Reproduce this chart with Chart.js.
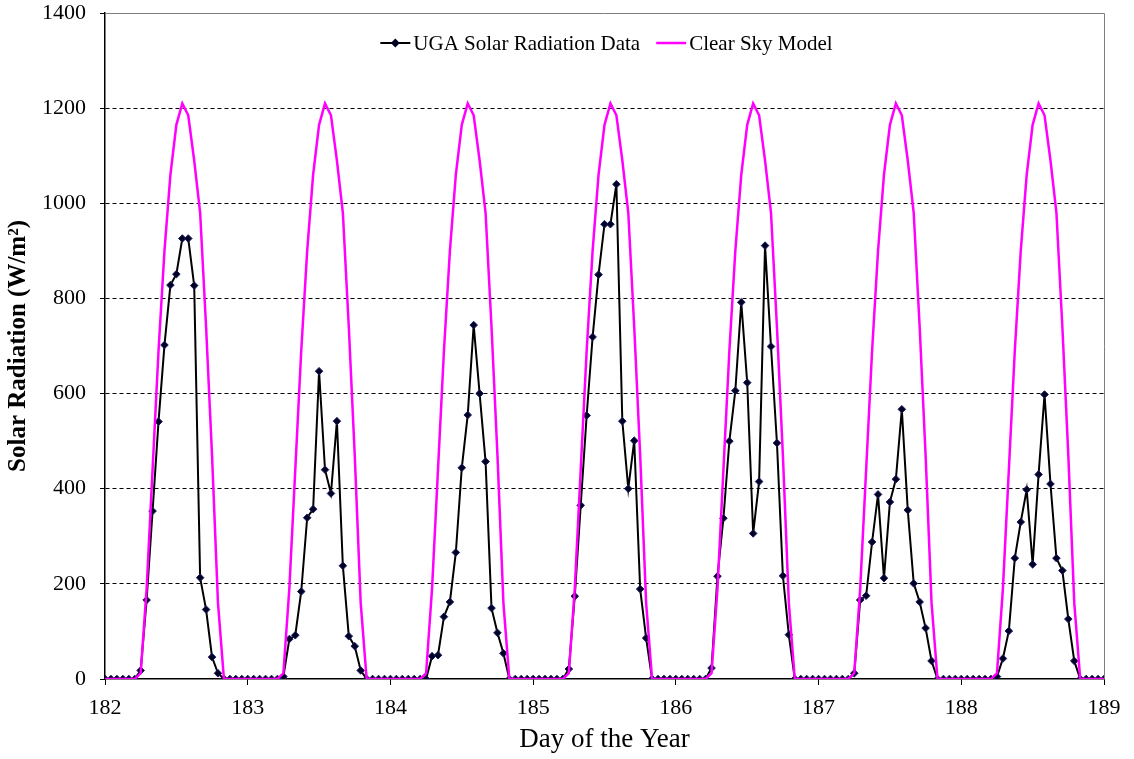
<!DOCTYPE html>
<html>
<head>
<meta charset="utf-8">
<script src="https://cdn.jsdelivr.net/npm/chart.js@4.4.1/dist/chart.umd.min.js"></script>
<style>
  html, body { margin: 0; padding: 0; background: #fff; }
  #wrap { width: 1134px; height: 759px; }
</style>
</head>
<body>
<div id="wrap"><canvas id="chart" width="1134" height="759"></canvas></div>
<script>
// hourly readings, hour 0..23 of each day
const day182 = [0, 0, 0, 0, 0, 0, 18, 166, 353, 541, 702, 828, 851, 926, 926, 827, 213, 146, 46, 12, 0, 0, 0, 0];
const day183 = [0, 0, 0, 0, 0, 0, 5, 84, 92, 184, 339, 357, 647, 440, 390, 542, 238, 90, 69, 18, 0, 0, 0, 0];
const day184 = [0, 0, 0, 0, 0, 0, 0, 48, 50, 131, 162, 266, 444, 555, 744, 600, 457, 149, 97, 54, 0, 0, 0, 0];
const day185 = [0, 0, 0, 0, 0, 0, 21, 174, 365, 554, 719, 850, 956, 956, 1040, 542, 400, 501, 189, 86, 0, 0, 0, 0];
const day186 = [0, 0, 0, 0, 0, 0, 23, 216, 338, 500, 606, 792, 623, 306, 415, 911, 699, 496, 217, 93, 0, 0, 0, 0];
const day187 = [0, 0, 0, 0, 0, 0, 12, 166, 175, 288, 388, 212, 372, 420, 567, 355, 201, 162, 107, 38, 0, 0, 0, 0];
const day188 = [0, 0, 0, 0, 0, 0, 5, 43, 101, 254, 330, 398, 241, 430, 598, 410, 254, 228, 126, 38, 0, 0, 0, 0];
const lastReading = 0; // day 189, hour 0

// clear sky model, same curve every day
const clearSkyDay = [0, 0, 0, 0, 0, 0, 12, 190, 440, 690, 900, 1060, 1165, 1210, 1185, 1090, 980, 740, 470, 160, 0, 0, 0, 0];

const firstDay = 182;
const days = [day182, day183, day184, day185, day186, day187, day188];
const dayTicks = [182, 183, 184, 185, 186, 187, 188, 189];
const yTicks = [0, 200, 400, 600, 800, 1000, 1200, 1400];

const ugaPoints = [];
const skyPoints = [];
days.forEach((vals, d) => {
  vals.forEach((v, h) => {
    const x = firstDay + d + h / 24;
    ugaPoints.push({ x: x, y: v });
    skyPoints.push({ x: x, y: clearSkyDay[h] });
  });
});
ugaPoints.push({ x: firstDay + days.length, y: lastReading });
skyPoints.push({ x: firstDay + days.length, y: clearSkyDay[0] });

const serif = '"Liberation Serif", "Times New Roman", serif';

// frame on top/right + legend drawn inside the plot like Excel does
const excelBits = {
  id: 'excelBits',
  beforeDatasetsDraw(chart) {
    const { ctx, chartArea: a } = chart;
    ctx.save();
    ctx.strokeStyle = '#7f7f7f';
    ctx.lineWidth = 1;
    ctx.beginPath();
    ctx.moveTo(a.left, a.top + 0.5);
    ctx.lineTo(a.right + 0.5, a.top + 0.5);
    ctx.lineTo(a.right + 0.5, a.bottom);
    ctx.stroke();
    ctx.restore();
  },
  afterDraw(chart) {
    const { ctx, chartArea: a } = chart;
    ctx.save();
    ctx.font = '21px ' + serif;
    ctx.textBaseline = 'middle';
    const items = [
      { text: 'UGA Solar Radiation Data', color: '#000', marker: true },
      { text: 'Clear Sky Model', color: '#ff00ff', marker: false }
    ];
    const lineLen = 30, gapText = 3, gapItem = 16;
    let total = 0;
    items.forEach((it, i) => {
      it.w = ctx.measureText(it.text).width;
      total += lineLen + gapText + it.w + (i ? gapItem : 0);
    });
    let x = (a.left + a.right) / 2 - total / 2 + 2;
    const y = 43;
    items.forEach((it, i) => {
      if (i) x += gapItem;
      ctx.strokeStyle = it.color;
      ctx.lineWidth = it.marker ? 2 : 2.5;
      ctx.beginPath();
      ctx.moveTo(x, y);
      ctx.lineTo(x + lineLen, y);
      ctx.stroke();
      if (it.marker) {
        const cx = x + lineLen / 2;
        ctx.fillStyle = '#000022';
        ctx.beginPath();
        ctx.moveTo(cx, y - 4.5);
        ctx.lineTo(cx + 4.5, y);
        ctx.lineTo(cx, y + 4.5);
        ctx.lineTo(cx - 4.5, y);
        ctx.closePath();
        ctx.fill();
      }
      x += lineLen + gapText;
      ctx.fillStyle = '#000';
      ctx.fillText(it.text, x, y + 1);
      x += it.w;
    });
    ctx.restore();
  }
};

new Chart(document.getElementById('chart').getContext('2d'), {
  type: 'line',
  data: {
    datasets: [
      {
        label: 'UGA Solar Radiation Data',
        data: ugaPoints,
        borderColor: '#000',
        borderWidth: 2,
        pointStyle: 'rectRot',
        pointRadius: 3.8,
        pointBackgroundColor: '#000022',
        pointBorderColor: '#1c1c66',
        pointBorderWidth: 1,
        tension: 0,
        order: 1
      },
      {
        label: 'Clear Sky Model',
        data: skyPoints,
        borderColor: '#ff00ff',
        borderWidth: 2.5,
        pointRadius: 0,
        tension: 0,
        order: 0
      }
    ]
  },
  options: {
    responsive: false,
    animation: false,
    devicePixelRatio: 1,
    layout: { padding: { left: 0, right: 30, top: 0, bottom: 0 } },
    plugins: {
      legend: { display: false },
      tooltip: { enabled: false }
    },
    scales: {
      x: {
        type: 'linear',
        min: 182,
        max: 189,
        afterBuildTicks(scale) {
          scale.ticks = dayTicks.map(v => ({ value: v }));
        },
        afterFit(scale) { scale.height = 80; },
        ticks: {
          color: '#000',
          font: { family: serif, size: 22 },
          padding: 10,
          maxRotation: 0,
          callback: v => String(v)
        },
        grid: {
          drawOnChartArea: false,
          drawTicks: true,
          tickLength: 6,
          tickColor: '#000',
          tickWidth: 1
        },
        border: { display: true, color: '#000', width: 1.5 },
        title: {
          display: true,
          text: 'Day of the Year',
          color: '#000',
          font: { family: serif, size: 27 },
          padding: { top: 0, bottom: 3 }
        }
      },
      y: {
        min: 0,
        max: 1400,
        afterBuildTicks(scale) {
          scale.ticks = yTicks.map(v => ({ value: v }));
        },
        afterFit(scale) {
          scale.width = 105;
          scale.paddingTop = 13;
        },
        ticks: {
          color: '#000',
          font: { family: serif, size: 22 },
          padding: 14,
          callback: v => String(v)
        },
        grid: {
          color: c => (c.tick && (c.tick.value === 0 || c.tick.value === 1400)) ? 'rgba(0,0,0,0)' : '#000',
          lineWidth: 1,
          drawTicks: true,
          tickLength: 5,
          tickColor: '#000',
          tickWidth: 1,
          tickBorderDash: []
        },
        border: { display: true, color: '#000', width: 1.5, dash: [4, 3] },
        title: {
          display: true,
          text: 'Solar Radiation (W/m²)',
          color: '#000',
          font: { family: serif, size: 25, weight: 'bold' },
          padding: { top: 4, bottom: 0 }
        }
      }
    }
  },
  plugins: [excelBits]
});
</script>
</body>
</html>
